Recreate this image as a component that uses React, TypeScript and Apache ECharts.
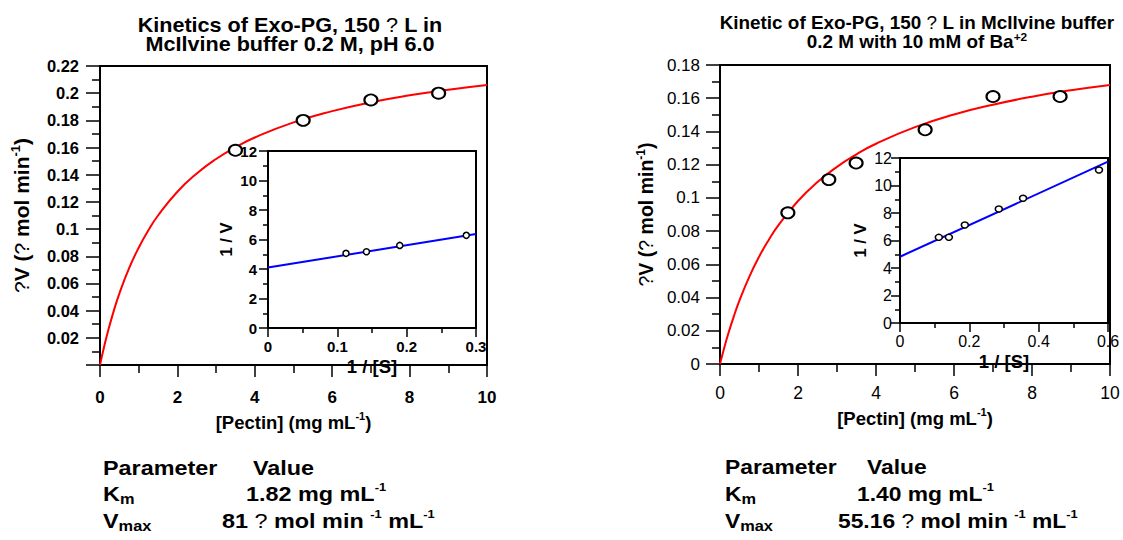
import React, { useEffect, useRef } from 'react';
import * as echarts from 'echarts';

// ---- Exo-PG in McIlvine buffer 0.2 M, pH 6.0 ----
const phPectin = [3.5, 5.25, 7, 8.75];
const phRate = [0.158, 0.18, 0.195, 0.2];
const phFitPectin = [0, 0.1, 0.2, 0.35, 0.5, 0.75, 1, 1.25, 1.5, 2, 2.5, 3, 3.5, 4, 5, 6, 7, 8, 9, 10];
const phFitRate = [0, 0.0127, 0.0241, 0.0393, 0.0525, 0.0711, 0.0863, 0.0991, 0.11, 0.1275, 0.1409, 0.1516, 0.1602, 0.1674, 0.1785, 0.1868, 0.1933, 0.1984, 0.2025, 0.206];
// Lineweaver-Burk inset
const phInvS = [0.1125, 0.142, 0.19, 0.286];
const phInvV = [5.06, 5.17, 5.6, 6.28];
const phLbX = [0, 0.3];
const phLbY = [4.1, 6.37];

// ---- Exo-PG with 10 mM Ba+2 ----
const baPectin = [1.74, 2.79, 3.49, 5.26, 7.0, 8.72];
const baRate = [0.091, 0.111, 0.121, 0.141, 0.161, 0.161];
const baFitPectin = [0, 0.1, 0.2, 0.35, 0.5, 0.75, 1, 1.25, 1.5, 2, 2.5, 3, 3.5, 4, 5, 6, 7, 8, 9, 10];
const baFitRate = [0, 0.009, 0.0173, 0.0284, 0.0383, 0.0525, 0.0645, 0.0747, 0.0836, 0.0981, 0.1095, 0.1187, 0.1262, 0.1326, 0.1426, 0.1502, 0.1561, 0.1609, 0.1648, 0.168];
const baInvS = [0.112, 0.141, 0.187, 0.285, 0.355, 0.574];
const baInvV = [6.23, 6.23, 7.13, 8.29, 9.07, 11.13];
const baLbX = [0, 0.6];
const baLbY = [4.82, 11.73];

// Axis ranges [min, max, label interval]
const pectinRange = [0, 10, 2];
const phRateRange = [0, 0.22, 0.02];
const baRateRange = [0, 0.18, 0.02];
const invVRange = [0, 12, 2];
const phInvSRange = [0, 0.3, 0.1];
const baInvSRange = [0, 0.6, 0.2];

// Fitted kinetic parameters
const phKm = '1.82';
const phVmax = '81';
const baKm = '1.40';
const baVmax = '55.16';

const FONT = 'Arial, "Liberation Sans", Helvetica, sans-serif';

const zip = (xs: number[], ys: number[]) => xs.map((x, i) => [x, ys[i]]);

const nameRich = (size: number) => ({
  b: { fontSize: size, fontWeight: 'bold', fontFamily: FONT, color: '#000', lineHeight: size + 4 },
  sup: { fontSize: Math.round(size * 0.6), fontWeight: 'bold', fontFamily: FONT, color: '#000', verticalAlign: 'top', lineHeight: Math.round(size * 0.75) },
  q: { fontSize: size, fontWeight: 'normal', fontFamily: FONT, color: '#000', lineHeight: size + 4 },
});

type AxisOpt = {
  grid: number;
  range: number[];
  bold: boolean;
  size: number;
  margin: number;
  tickLen: number;
  minorLen: number;
  name: string;
  nameGap: number;
  nameSize: number;
  hideZero?: boolean;
};

const mkAxis = (o: AxisOpt) => ({
  gridIndex: o.grid,
  type: 'value',
  min: o.range[0],
  max: o.range[1],
  interval: o.range[2],
  axisLine: { show: true, onZero: false, lineStyle: { color: '#000', width: 2 } },
  axisTick: { show: true, inside: false, length: o.tickLen, lineStyle: { color: '#000', width: 1.5 } },
  minorTick: { show: true, splitNumber: 2, length: o.minorLen, lineStyle: { color: '#000', width: 1.5 } },
  splitLine: { show: false },
  minorSplitLine: { show: false },
  axisLabel: {
    color: '#000',
    fontFamily: FONT,
    fontSize: o.size,
    fontWeight: o.bold ? 'bold' : 'normal',
    margin: o.margin,
    showMinLabel: true,
    showMaxLabel: true,
    hideOverlap: false,
    formatter: (v: number) => (o.hideZero && v === 0 ? '' : String(parseFloat(v.toFixed(4)))),
  },
  name: o.name,
  nameLocation: 'middle',
  nameGap: o.nameGap,
  nameTextStyle: {
    color: '#000',
    fontFamily: FONT,
    fontWeight: 'bold',
    fontSize: o.nameSize,
    lineHeight: o.nameSize + 4,
    rich: nameRich(o.nameSize),
  },
});

const textRich = (size: number) => ({
  sup: { fontSize: 11, fontWeight: 'bold', fontFamily: FONT, fill: '#000', verticalAlign: 'top', lineHeight: 16 },
  sub: { fontSize: 14, fontWeight: 'bold', fontFamily: FONT, fill: '#000', verticalAlign: 'bottom', lineHeight: 14 },
  subm: { fontSize: 14, fontWeight: 'bold', fontFamily: FONT, fill: '#000', verticalAlign: 'bottom', lineHeight: 18 },
  q: { fontSize: size, fontWeight: 'normal', fontFamily: FONT, fill: '#000' },
});

const txt = (text: string, x: number, y: number, size: number, scaleX: number, align = 'left') => ({
  type: 'text',
  x,
  y,
  scaleX,
  silent: true,
  style: {
    text,
    fill: '#000',
    fontSize: size,
    fontWeight: 'bold',
    fontFamily: FONT,
    lineHeight: size + 4,
    align,
    verticalAlign: 'middle',
    textAlign: align,
    textVerticalAlign: 'middle',
    rich: textRich(size),
  },
});

const gridBox = (left: number, top: number, width: number, height: number, bg: string) => ({
  left, top, width, height,
  show: true,
  borderColor: '#000',
  borderWidth: 2,
  backgroundColor: bg,
  containLabel: false,
  outerBoundsMode: 'none',
});

const circles = (size: number[], border: number) => ({
  symbol: 'circle',
  symbolSize: size,
  itemStyle: { color: '#fff', borderColor: '#000', borderWidth: border, opacity: 1 },
  emphasis: { disabled: true },
});

export default function App() {
  const ref = useRef<HTMLDivElement>(null);

  useEffect(() => {
    if (!ref.current) return;
    const chart = echarts.init(ref.current, undefined, { renderer: 'svg' });

    const rateName = '{q|?}{b|V (}{q|?}{b| mol min}{sup|-1}{b|)}';
    const pectinName = '{b|[Pectin] (mg mL}{sup|-1}{b|)}';
    const invVName = '{b|1 / V}';
    const invSName = '{b|1 / [S]}';

    chart.setOption({
      animation: false,
      backgroundColor: '#fff',
      grid: [
        gridBox(100, 66, 387, 299, 'transparent'),
        gridBox(268, 151, 208, 177, '#fff'),
        gridBox(720, 65, 390, 299, 'transparent'),
        gridBox(900, 158, 208, 165, '#fff'),
      ],
      xAxis: [
        mkAxis({ grid: 0, range: pectinRange, bold: true, size: 17, margin: 24, tickLen: 12, minorLen: 8, name: pectinName, nameGap: 38, nameSize: 18.5 }),
        mkAxis({ grid: 1, range: phInvSRange, bold: true, size: 15, margin: 11, tickLen: 9, minorLen: 5, name: invSName, nameGap: 18, nameSize: 18.5 }),
        mkAxis({ grid: 2, range: pectinRange, bold: false, size: 17.5, margin: 20, tickLen: 12, minorLen: 8, name: pectinName, nameGap: 38, nameSize: 18.5 }),
        mkAxis({ grid: 3, range: baInvSRange, bold: false, size: 16, margin: 10, tickLen: 9, minorLen: 5, name: invSName, nameGap: 18, nameSize: 18.5 }),
      ],
      yAxis: [
        mkAxis({ grid: 0, range: phRateRange, bold: true, size: 16.5, margin: 21, tickLen: 14, minorLen: 8, name: rateName, nameGap: 66, nameSize: 21 }),
        mkAxis({ grid: 1, range: invVRange, bold: true, size: 15, margin: 11, tickLen: 9, minorLen: 5, name: invVName, nameGap: 27, nameSize: 16.5 }),
        mkAxis({ grid: 2, range: baRateRange, bold: false, size: 17, margin: 20, tickLen: 14, minorLen: 8, name: rateName, nameGap: 62, nameSize: 19.5 }),
        mkAxis({ grid: 3, range: invVRange, bold: false, size: 16, margin: 8, tickLen: 9, minorLen: 5, name: invVName, nameGap: 24, nameSize: 16.5 }),
      ].map((a, i) => (i === 0 ? { ...a, axisLabel: { ...a.axisLabel, formatter: (v: number) => (v === 0 ? '' : String(parseFloat(v.toFixed(4)))) } } : a)),
      series: [
        {
          type: 'line', xAxisIndex: 0, yAxisIndex: 0, data: zip(phFitPectin, phFitRate),
          smooth: true, showSymbol: false, lineStyle: { color: '#ff0000', width: 2 }, z: 2,
        },
        { type: 'scatter', xAxisIndex: 0, yAxisIndex: 0, data: zip(phPectin, phRate), ...circles([13, 11], 2), z: 4 },
        {
          type: 'line', xAxisIndex: 1, yAxisIndex: 1, data: zip(phLbX, phLbY),
          showSymbol: false, lineStyle: { color: '#0000ff', width: 2 }, z: 5,
        },
        { type: 'scatter', xAxisIndex: 1, yAxisIndex: 1, data: zip(phInvS, phInvV), ...circles([6, 6], 1.5), z: 6 },
        {
          type: 'line', xAxisIndex: 2, yAxisIndex: 2, data: zip(baFitPectin, baFitRate),
          smooth: true, showSymbol: false, lineStyle: { color: '#ff0000', width: 2 }, z: 2,
        },
        { type: 'scatter', xAxisIndex: 2, yAxisIndex: 2, data: zip(baPectin, baRate), ...circles([13, 11], 2), z: 4 },
        {
          type: 'line', xAxisIndex: 3, yAxisIndex: 3, data: zip(baLbX, baLbY),
          showSymbol: false, lineStyle: { color: '#0000ff', width: 2 }, z: 5,
        },
        { type: 'scatter', xAxisIndex: 3, yAxisIndex: 3, data: zip(baInvS, baInvV), ...circles([7, 6], 1.5), z: 6 },
      ],
      graphic: [
        // panel titles
        txt('Kinetics of Exo-PG, 150 {q|?} L in', 290, 25, 20, 1.08, 'center'),
        txt('McIlvine buffer 0.2 M, pH 6.0', 290, 44, 20, 1.08, 'center'),
        txt('Kinetic of Exo-PG, 150 {q|?} L in McIlvine buffer', 917, 23, 17.5, 1.08, 'center'),
        txt('0.2 M with 10 mM of Ba{sup|+2}', 917, 42.5, 17.5, 1.08, 'center'),
        // parameter tables
        txt('Parameter', 103, 468, 20, 1.17),
        txt('Value', 253, 468, 20, 1.17),
        txt('K{sub|m}', 103, 494, 20, 1.17),
        txt(`${phKm} mg mL{sup|-1}`, 246, 494, 20, 1.17),
        txt('V{subm|max}', 103, 521, 20, 1.17),
        txt(`${phVmax} {q|?} mol min {sup|-1} mL{sup|-1}`, 222, 521, 20, 1.17),
        txt('Parameter', 725, 467, 19.5, 1.17),
        txt('Value', 867, 467, 19.5, 1.17),
        txt('K{sub|m}', 725, 494, 19.5, 1.17),
        txt(`${baKm} mg mL{sup|-1}`, 857, 494, 19.5, 1.17),
        txt('V{subm|max}', 725, 521, 19.5, 1.17),
        txt(`${baVmax} {q|?} mol min {sup|-1} mL{sup|-1}`, 838, 521, 19.5, 1.17),
      ],
    });

    return () => chart.dispose();
  }, []);

  return (
    <div
      ref={ref}
      style={{ position: 'fixed', left: 0, top: 0, width: 1123, height: 540, background: '#fff' }}
    />
  );
}
